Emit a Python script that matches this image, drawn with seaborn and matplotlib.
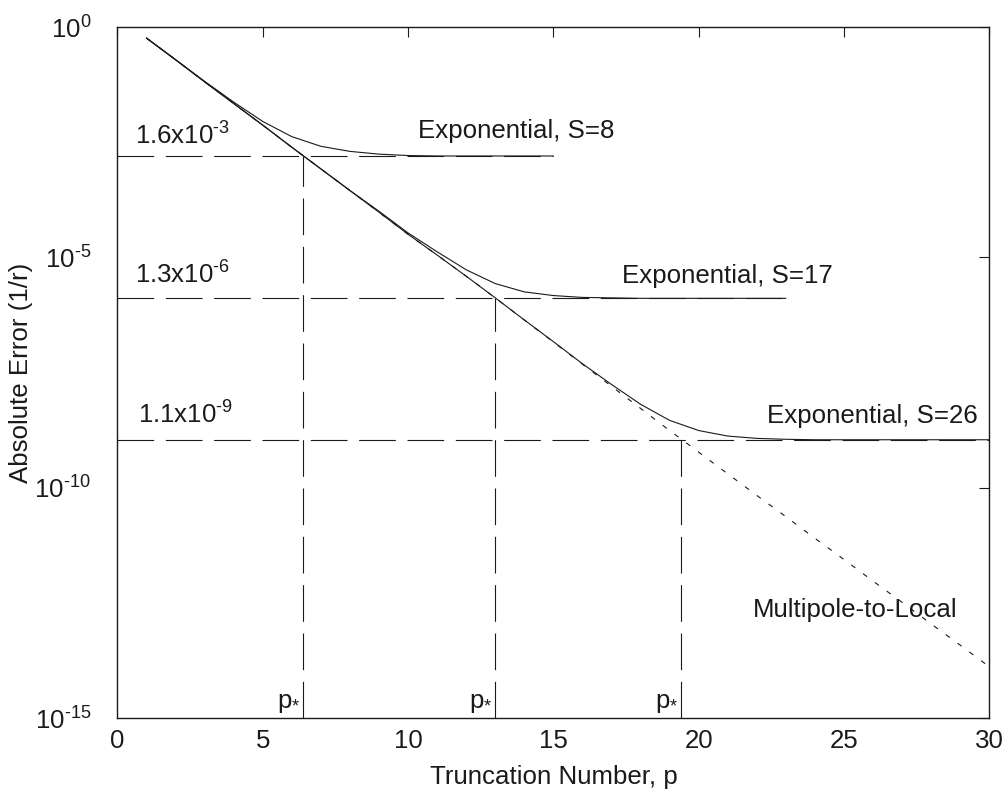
import numpy as np
import pandas as pd
import seaborn as sns
import matplotlib
matplotlib.use("Agg")
import matplotlib.pyplot as plt

# 데이터 (log10 값으로 읽음)
p_vals = list(range(1, 31))
m2l_log10 = [-0.24, -0.71, -1.19, -1.66, -2.13, -2.61, -3.08, -3.55, -4.02, -4.50,
             -4.95, -5.41, -5.88, -6.36, -6.84, -7.32, -7.80, -8.28, -8.76, -9.23,
             -9.70, -10.17, -10.63, -11.10, -11.56, -12.03, -12.49, -12.96, -13.42, -13.89]

# Exponential, S=8  (p = 1..15)
s8_log10 = [-0.24, -0.71, -1.18, -1.63, -2.05, -2.38, -2.59, -2.70, -2.76, -2.79,
            -2.80, -2.80, -2.80, -2.80, -2.80]
# Exponential, S=17 (p = 1..23)
s17_log10 = [-0.24, -0.71, -1.19, -1.66, -2.13, -2.61, -3.08, -3.55, -4.00, -4.47,
             -4.88, -5.27, -5.57, -5.75, -5.83, -5.87, -5.88, -5.89, -5.89, -5.89,
             -5.89, -5.89, -5.89]
# Exponential, S=26 (p = 1..30)
s26_log10 = [-0.24, -0.71, -1.19, -1.66, -2.13, -2.61, -3.08, -3.55, -4.02, -4.50,
             -4.95, -5.41, -5.88, -6.36, -6.83, -7.31, -7.76, -8.19, -8.54, -8.76,
             -8.88, -8.93, -8.95, -8.96, -8.96, -8.96, -8.96, -8.96, -8.96, -8.96]

floor_vals = [1.6e-3, 1.3e-6, 1.1e-9]
floor_labels = ["1.6x10$^{\\text{-3}}$", "1.3x10$^{\\text{-6}}$", "1.1x10$^{\\text{-9}}$"]
floor_ends = [15, 23, 30]
p_star = [6.4, 13.0, 19.4]
curve_labels = ["Exponential, S=8", "Exponential, S=17", "Exponential, S=26"]
ytick_vals = [1e0, 1e-5, 1e-10, 1e-15]
ytick_labels = ["$10^{0}$", "$10^{\\text{-5}}$", "$10^{\\text{-10}}$", "$10^{\\text{-15}}$"]

sns.set_theme(style="white")
plt.rcParams['font.family'] = ['Liberation Sans', 'DejaVu Sans']
plt.rcParams['mathtext.fontset'] = 'custom'
plt.rcParams['mathtext.rm'] = 'Liberation Sans'
plt.rcParams['mathtext.it'] = 'Liberation Sans:italic'
plt.rcParams['mathtext.default'] = 'regular'
plt.rcParams['text.color'] = 'k'
plt.rcParams['axes.labelcolor'] = 'k'

fs = 18.6

fig = plt.figure(figsize=(10.08, 7.92), dpi=100)
ax = fig.add_axes([117.4 / 1008, 74 / 792, 872 / 1008, 691 / 792])

lw = 0.8
m2l = pd.DataFrame({"p": p_vals, "err": 10.0 ** np.array(m2l_log10)})
sns.lineplot(data=m2l, x="p", y="err", color="k", lw=lw, ax=ax,
             linestyle=(0, (4.5, 8.7)), estimator=None, sort=False)

for vals in [s8_log10, s17_log10, s26_log10]:
    d = pd.DataFrame({"p": p_vals[:len(vals)], "err": 10.0 ** np.array(vals)})
    sns.lineplot(data=d, x="p", y="err", color="k", lw=lw, ax=ax,
                 estimator=None, sort=False)

dash = (0, (33, 10.5))
for fv, xe, ps in zip(floor_vals, floor_ends, p_star):
    ax.hlines(fv, 0, xe, colors="k", lw=lw, linestyles=[dash])
    ax.vlines(ps, 1e-15, fv, colors="k", lw=lw, linestyles=[dash])

ax.set_yscale("log")
ax.set_xlim(0, 30)
ax.set_ylim(1e-15, 1e0)
ax.set_xticks([0, 5, 10, 15, 20, 25, 30])
ax.set_yticks(ytick_vals)
ax.set_yticklabels(ytick_labels)
ax.minorticks_off()
ax.tick_params(direction="in", length=7.2, width=0.8, top=True, right=True,
               labelsize=fs, colors="k")
ax.tick_params(axis="y", pad=19)
ax.tick_params(axis="x", pad=8)
for sp in ax.spines.values():
    sp.set_color("k")
    sp.set_linewidth(1.0)

ax.set_xlabel("Truncation Number, p", fontsize=fs)
ax.set_ylabel("Absolute Error (1/r)", fontsize=fs)
ax.xaxis.set_label_coords(0.5, -0.068)
ax.yaxis.set_label_coords(-0.097, 0.5)

# 주석
lab_x = [0.6, 0.6, 0.7]
lab_y = [-2.56, -5.56, -8.60]
for tx, ty, t in zip(lab_x, lab_y, floor_labels):
    ax.text(tx, 10.0 ** ty, t, fontsize=fs, ha="left", va="baseline")

cl_x = [10.34, 17.35, 22.34]
cl_y = [-2.42, -5.55, -8.59]
for tx, ty, t in zip(cl_x, cl_y, curve_labels):
    ax.text(tx, 10.0 ** ty, t, fontsize=fs, ha="left", va="baseline")

ax.text(21.85, 10.0 ** -12.80, "Multipole-to-Local", fontsize=fs, ha="left", va="baseline")

for ps in p_star:
    ax.text(ps - 0.1, 10.0 ** -14.93, "p$_{*}$", fontsize=fs, ha="right", va="bottom")

fig.savefig("out.png", dpi=100)
